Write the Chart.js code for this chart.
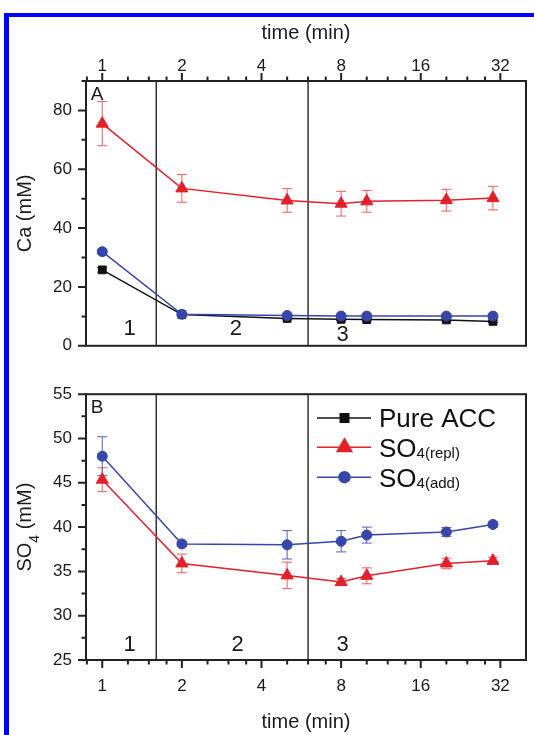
<!DOCTYPE html>
<html>
<head>
<meta charset="utf-8">
<script src="https://cdn.jsdelivr.net/npm/chart.js@4.4.1/dist/chart.umd.min.js"></script>
<style>
  html, body { margin: 0; padding: 0; background: #fff; overflow: hidden; }
  #page { position: relative; width: 534px; height: 735px; overflow: hidden; }
  #frame { position: absolute; left: 4px; top: 13px; width: 600px; height: 800px;
           border-left: 5px solid #0000ff; border-top: 4px solid #0000ff; }
  canvas { position: absolute; left: 0; }
  #chartA { top: 0; }
  #chartB { top: 370px; }
</style>
</head>
<body>
<div id="page">
  <div id="frame"></div>
  <canvas id="chartA" width="534" height="370"></canvas>
  <canvas id="chartB" width="534" height="365"></canvas>
</div>
<script>
// Sampling times (min)
var times = [1, 2, 5, 8, 10, 20, 30];

// Panel A - Ca (mM)
var caPure = [25.8, 10.6, 9.3, 9.0, 8.9, 8.8, 8.3];
var caPureErr = [0.8, 0.5, 0.4, 0.4, 0.4, 0.4, 0.4];
var caRepl = [75.5, 53.5, 49.4, 48.3, 49.1, 49.5, 50.2];
var caReplErr = [7.5, 4.7, 4.0, 4.2, 3.7, 3.7, 4.0];
var caAdd = [32.0, 10.7, 10.3, 10.1, 10.1, 10.1, 10.1];
var caAddErr = [0.8, 0.5, 0.4, 0.4, 0.4, 0.4, 0.4];

// Panel B - SO4 (mM)
var so4Repl = [45.35, 35.9, 34.55, 33.8, 34.5, 35.9, 36.2];
var so4ReplErr = [1.35, 1.05, 1.5, 0.4, 0.9, 0.6, 0.4];
var so4Add = [48.0, 38.1, 38.0, 38.4, 39.1, 39.45, 40.3];
var so4AddErr = [2.2, 0.3, 1.6, 1.2, 0.9, 0.5, 0.3];

// Series names ("_" marks the start of the subscript)
var seriesNames = ['Pure ACC', 'SO_4(repl)', 'SO_4(add)'];

// Axis ticks
var xMajor = [1, 2, 4, 8, 16, 32];
var xMinor = [0.875, 1.25, 1.5, 1.75, 2.5, 3, 3.5, 5, 6, 7, 10, 12, 14, 20, 24, 28];

// Stage boundaries (min) and stage names
var stageBounds = [1.6, 6];
var stageNames = ['1', '2', '3'];

var FONT = "'Liberation Sans', Arial, sans-serif";
Chart.defaults.font.family = FONT;
Chart.defaults.color = '#1a1a1a';

var styles = [
    { color: '#111111', err: '#333333', shape: 'rect', radius: 5.5, legendRadius: 6 },
    { color: '#e3202a', err: '#ee5a60', shape: 'triangle', radius: 7, legendRadius: 8.5 },
    { color: '#3646ab', err: '#5060c0', shape: 'circle', radius: 5, legendRadius: 5.5 }
];

function makeSet(i, values, errs) {
    var s = styles[i];
    return {
        label: seriesNames[i].replace('_', ''),
        data: times.map(function (t, k) { return { x: t, y: values[k] }; }),
        errors: errs,
        errorColor: s.err,
        borderColor: s.color,
        backgroundColor: s.color,
        pointBackgroundColor: s.color,
        pointBorderColor: s.color,
        pointStyle: s.shape,
        pointRadius: s.radius,
        pointBorderWidth: 1,
        borderWidth: 1.5,
        tension: 0
    };
}

// Error bars drawn under the markers
var errorBars = {
    id: 'errorBars',
    beforeDatasetsDraw: function (chart) {
        var ctx = chart.ctx, ys = chart.scales.y;
        chart.data.datasets.forEach(function (ds, i) {
            if (!ds.errors) return;
            var meta = chart.getDatasetMeta(i);
            ctx.save();
            ctx.strokeStyle = ds.errorColor;
            ctx.lineWidth = 1;
            ctx.beginPath();
            meta.data.forEach(function (pt, k) {
                var v = ds.data[k].y, e = ds.errors[k];
                var top = ys.getPixelForValue(v + e), bot = ys.getPixelForValue(v - e);
                ctx.moveTo(pt.x, top); ctx.lineTo(pt.x, bot);
                ctx.moveTo(pt.x - 5, top); ctx.lineTo(pt.x + 5, top);
                ctx.moveTo(pt.x - 5, bot); ctx.lineTo(pt.x + 5, bot);
            });
            ctx.stroke();
            ctx.restore();
        });
    }
};

// Stage separators, stage numbers and panel letter
var stages = {
    id: 'stages',
    beforeDatasetsDraw: function (chart, args, opts) {
        var ctx = chart.ctx, a = chart.chartArea, xs = chart.scales.x;
        ctx.save();
        ctx.strokeStyle = '#333';
        ctx.lineWidth = 1.5;
        ctx.beginPath();
        stageBounds.forEach(function (b) {
            var px = xs.getPixelForValue(b);
            ctx.moveTo(px, a.top); ctx.lineTo(px, a.bottom);
        });
        ctx.stroke();
        ctx.fillStyle = '#1a1a1a';
        ctx.textAlign = 'center';
        ctx.textBaseline = 'middle';
        ctx.font = '22px ' + FONT;
        stageNames.forEach(function (n, i) {
            ctx.fillText(n, xs.getPixelForValue(opts.labelX[i]), a.bottom - opts.labelOffsets[i]);
        });
        ctx.font = '19px ' + FONT;
        ctx.fillText(opts.letter, a.left + 11, a.top + 14);
        ctx.restore();
    }
};

// Box around the plot plus major / minor tick marks
var frameTicks = {
    id: 'frameTicks',
    afterDraw: function (chart) {
        var ctx = chart.ctx, a = chart.chartArea, xs = chart.scales.x, ys = chart.scales.y;
        ctx.save();
        ctx.strokeStyle = '#222';
        ctx.lineWidth = 2;
        ctx.strokeRect(a.left, a.top, a.right - a.left, a.bottom - a.top);
        ctx.beginPath();
        xs.ticks.forEach(function (t) {
            var px = xs.getPixelForValue(t.value);
            var len = xMajor.indexOf(t.value) >= 0 ? 8 : 4.5;
            if (xs.options.position === 'top') {
                ctx.moveTo(px, a.top); ctx.lineTo(px, a.top - len);
            } else {
                ctx.moveTo(px, a.bottom); ctx.lineTo(px, a.bottom + len);
            }
        });
        ys.ticks.forEach(function (t) {
            var py = ys.getPixelForValue(t.value);
            var len = t.label !== '' ? 8 : 4.5;
            ctx.moveTo(a.left, py); ctx.lineTo(a.left - len, py);
        });
        ctx.stroke();
        ctx.restore();
    }
};

// Rotated y title with a real subscript (panel B)
var subTitle = {
    id: 'subTitle',
    afterDraw: function (chart, args, opts) {
        if (!opts.parts) return;
        var ctx = chart.ctx, a = chart.chartArea;
        ctx.save();
        ctx.translate(25, (a.top + a.bottom) / 2);
        ctx.rotate(-Math.PI / 2);
        ctx.fillStyle = '#1a1a1a';
        ctx.textBaseline = 'middle';
        ctx.textAlign = 'left';
        var big = '20px ' + FONT, small = '14px ' + FONT;
        var w = 0;
        opts.parts.forEach(function (p, i) {
            ctx.font = i === 1 ? small : big;
            w += ctx.measureText(p).width;
        });
        var x = -w / 2;
        opts.parts.forEach(function (p, i) {
            ctx.font = i === 1 ? small : big;
            ctx.fillText(p, x, i === 1 ? 10 : 0);
            x += ctx.measureText(p).width;
        });
        ctx.restore();
    }
};

// Legend inside panel B
var sideLegend = {
    id: 'sideLegend',
    afterDraw: function (chart, args, opts) {
        if (!opts.show) return;
        var ctx = chart.ctx, a = chart.chartArea;
        var rows = [23.7, 53, 83];
        ctx.save();
        seriesNames.forEach(function (name, i) {
            var s = styles[i];
            var y = a.top + rows[i];
            var x0 = a.right - 209, x1 = a.right - 155, xm = a.right - 181.5;
            ctx.strokeStyle = s.color;
            ctx.lineWidth = 1.5;
            ctx.beginPath(); ctx.moveTo(x0, y); ctx.lineTo(x1, y); ctx.stroke();
            ctx.fillStyle = s.color;
            Chart.helpers.drawPoint(ctx, { pointStyle: s.shape, radius: s.legendRadius, rotation: 0, borderWidth: 1 }, xm, y);
            var parts = name.split('_');
            var tx = a.right - 147;
            ctx.fillStyle = '#111';
            ctx.textAlign = 'left';
            ctx.textBaseline = 'alphabetic';
            ctx.font = '26px ' + FONT;
            ctx.fillText(parts[0], tx, y + 9.3);
            if (parts[1]) {
                var w = ctx.measureText(parts[0]).width;
                ctx.font = '15px ' + FONT;
                ctx.fillText(parts[1], tx + w, y + 10.5);
            }
        });
        ctx.restore();
    }
};

function xAxis(position, labelPad, titlePad, height) {
    return {
        type: 'logarithmic',
        position: position,
        min: 0.868,
        max: 40,
        afterBuildTicks: function (s) {
            s.ticks = xMajor.concat(xMinor).sort(function (p, q) { return p - q; })
                .map(function (v) { return { value: v }; });
        },
        afterFit: function (s) { s.height = height; },
        grid: { display: false, drawTicks: false },
        border: { display: false },
        ticks: {
            autoSkip: false, maxRotation: 0, padding: labelPad,
            font: { size: 17 },
            callback: function (v) { return xMajor.indexOf(v) >= 0 ? String(v) : ''; }
        },
        title: { display: true, text: 'time (min)', font: { size: 20 }, padding: titlePad }
    };
}

function yAxis(min, max, step, labelStep, title) {
    return {
        min: min,
        max: max,
        afterFit: function (s) { s.width = 86; },
        grid: { display: false, drawTicks: false },
        border: { display: false },
        ticks: {
            autoSkip: false, stepSize: step, padding: 14,
            font: { size: 17 },
            callback: function (v) { return Math.abs(v / labelStep - Math.round(v / labelStep)) < 1e-6 ? String(v) : ''; }
        },
        title: { display: !!title, text: title, font: { size: 20 }, padding: { top: 13, bottom: 0 } }
    };
}

// Panel A
new Chart(document.getElementById('chartA').getContext('2d'), {
    type: 'line',
    data: {
        datasets: [makeSet(1, caRepl, caReplErr), makeSet(2, caAdd, caAddErr), makeSet(0, caPure, caPureErr)]
    },
    options: {
        responsive: false,
        animation: false,
        layout: { padding: { left: 0, right: 1, top: 0, bottom: 23 } },
        plugins: {
            legend: { display: false },
            tooltip: { enabled: false },
            stages: { letter: 'A', labelX: [1.27, 3.2, 8.1], labelOffsets: [17, 17, 11] },
            sideLegend: { show: false },
            subTitle: {}
        },
        scales: {
            x: xAxis('top', 4, { top: 21, bottom: 0 }, 81),
            y: yAxis(0, 90, 10, 20, 'Ca (mM)')
        }
    },
    plugins: [errorBars, stages, frameTicks, sideLegend, subTitle]
});

// Panel B
new Chart(document.getElementById('chartB').getContext('2d'), {
    type: 'line',
    data: {
        datasets: [makeSet(1, so4Repl, so4ReplErr), makeSet(2, so4Add, so4AddErr)]
    },
    options: {
        responsive: false,
        animation: false,
        layout: { padding: { left: 0, right: 1, top: 23, bottom: 0 } },
        plugins: {
            legend: { display: false },
            tooltip: { enabled: false },
            stages: { letter: 'B', labelX: [1.27, 3.25, 8.1], labelOffsets: [15, 15, 15] },
            sideLegend: { show: true },
            subTitle: { parts: ['SO', '4', ' (mM)'] }
        },
        scales: {
            x: xAxis('bottom', 16, { top: 0, bottom: 1 }, 75),
            y: yAxis(25, 55, 2.5, 5, '')
        }
    },
    plugins: [errorBars, stages, frameTicks, sideLegend, subTitle]
});
</script>
</body>
</html>
